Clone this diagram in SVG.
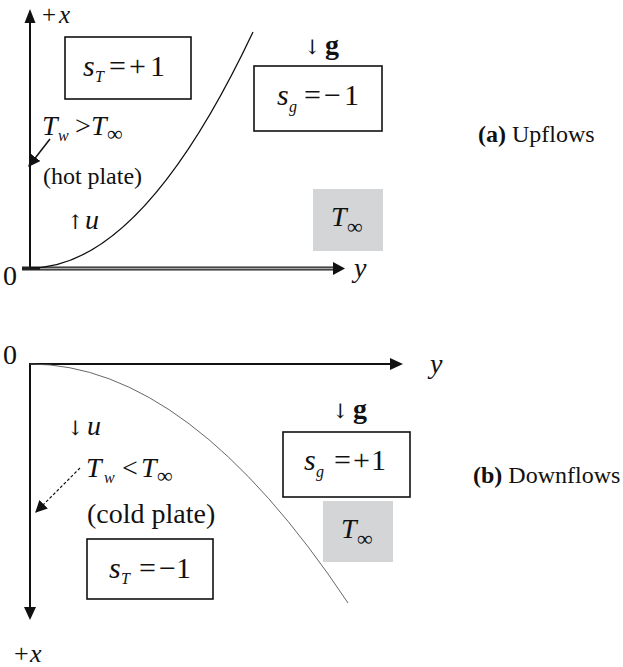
<svg xmlns="http://www.w3.org/2000/svg" width="623" height="667" viewBox="0 0 623 667">
<style>
text{font-family:"Liberation Serif","Times New Roman",serif;fill:#111}
.m{font-style:italic}
.lab{font-size:24px}
.ax28{font-size:28px}
.eq{font-size:30px}
.tt{font-size:28px}
.sub{font-size:16px;font-style:italic}
.inf{font-size:22px;font-style:normal}
.arr{font-family:"DejaVu Serif",serif;font-size:20px;fill:#111}
.box{fill:none;stroke:#111;stroke-width:1.6}
.grey{fill:#d4d5d7}
.ax{stroke:#111;stroke-width:2;fill:none}
.head{fill:#111}
.curve{fill:none;stroke:#111;stroke-width:1.3}
</style>
<defs>
<marker id="ah" viewBox="0 0 10 10" refX="9" refY="5" markerWidth="12" markerHeight="12" markerUnits="userSpaceOnUse" orient="auto">
<path d="M0,0 L10,5 L0,10 z" fill="#111"/>
</marker>
</defs>

<g id="connectors">
<!-- top panel axes -->
<line class="ax" x1="30" y1="269" x2="30" y2="20"/>
<polygon class="head" points="30,9 24.5,23 35.5,23"/>
<line x1="22" y1="268.5" x2="334" y2="268.5" stroke="#222" stroke-width="4"/>
<line x1="40" y1="268.5" x2="334" y2="268.5" stroke="#aaa" stroke-width="1.4"/>
<polygon class="head" points="345,268.5 333,262 333,275"/>
<path class="curve" d="M30,268 Q141.5,268 253,32"/>
<line x1="50" y1="139" x2="29" y2="166" stroke="#111" stroke-width="1.5" marker-end="url(#ah)"/>
<!-- bottom panel axes -->
<line class="ax" x1="29" y1="364" x2="391" y2="364"/>
<polygon class="head" points="403,364 390,358 390,370"/>
<line class="ax" x1="30" y1="364" x2="30" y2="608"/>
<polygon class="head" points="30,620 24,607 36,607"/>
<path d="M30,364 Q189,364 348,603" fill="none" stroke="#555" stroke-width="0.9"/>
<line x1="80" y1="468" x2="36" y2="512" stroke="#111" stroke-width="1.2" stroke-dasharray="3,2" marker-end="url(#ah)"/>
</g>

<g id="top-labels">
<text font-size="25" y="23"><tspan x="42">+</tspan><tspan class="m" x="59">x</tspan></text>
<text class="ax28" x="3" y="285">0</text>
<text class="ax28 m" x="354" y="277">y</text>
<text class="lab" x="478" y="142"><tspan font-weight="bold">(a)</tspan> Upflows</text>
</g>

<g id="sT-top">
<rect class="box" x="65" y="37" width="126" height="62"/>
<text class="eq" y="76"><tspan class="m" x="83">s</tspan><tspan class="sub" x="95" dy="6">T</tspan><tspan x="109" dy="-6">=</tspan><tspan x="129">+</tspan><tspan x="150">1</tspan></text>
</g>

<g id="sg-top">
<text class="arr" x="304" y="54">↓</text>
<text class="tt" x="325" y="54" font-weight="bold">g</text>
<rect class="box" x="254" y="66" width="128" height="65"/>
<text class="eq" y="105"><tspan class="m" x="277">s</tspan><tspan class="sub" x="289" dy="7">g</tspan><tspan x="304" dy="-7">=</tspan><tspan x="324">−</tspan><tspan x="344">1</tspan></text>
</g>

<g id="Tinf-top">
<rect class="grey" x="313" y="189" width="70" height="62"/>
<text class="tt m" y="226"><tspan x="331">T</tspan><tspan class="inf" x="347" dy="8">∞</tspan></text>
</g>

<g id="hot-plate">
<text class="tt m" y="135"><tspan x="42">T</tspan><tspan class="sub" x="58" dy="6">w</tspan><tspan font-style="normal" x="75" dy="-6">&gt;</tspan><tspan x="91">T</tspan><tspan class="inf" x="107" dy="6">∞</tspan></text>
<text class="lab" x="43" y="184" textLength="99">(hot plate)</text>
<text class="tt" y="229"><tspan class="arr" x="67">↑</tspan><tspan class="m" x="85">u</tspan></text>
</g>

<g id="bottom-labels">
<text class="ax28" x="3" y="364">0</text>
<text class="ax28 m" x="430" y="373">y</text>
<text font-size="26" y="662"><tspan x="14">+</tspan><tspan class="m" x="30">x</tspan></text>
<text class="lab" x="473" y="483"><tspan font-weight="bold">(b)</tspan> Downflows</text>
</g>

<g id="cold-plate">
<text class="tt" y="435"><tspan class="arr" x="67">↓</tspan><tspan class="m" x="87">u</tspan></text>
<text class="tt m" y="477"><tspan x="86">T</tspan><tspan class="sub" x="104" dy="6">w</tspan><tspan font-style="normal" x="122" dy="-6">&lt;</tspan><tspan x="141">T</tspan><tspan class="inf" x="157" dy="6">∞</tspan></text>
<text class="tt" x="87" y="523">(cold plate)</text>
</g>

<g id="sT-bottom">
<rect class="box" x="87" y="539" width="126" height="60"/>
<text class="eq" y="578"><tspan class="m" x="109">s</tspan><tspan class="sub" x="121" dy="6">T</tspan><tspan x="139" dy="-6">=</tspan><tspan x="159">−</tspan><tspan x="176">1</tspan></text>
</g>

<g id="sg-bottom">
<text class="arr" x="332" y="418">↓</text>
<text class="tt" x="353" y="418" font-weight="bold">g</text>
<rect class="box" x="283" y="432" width="127" height="65"/>
<text class="eq" y="470"><tspan class="m" x="304">s</tspan><tspan class="sub" x="316" dy="7">g</tspan><tspan x="334" dy="-7">=</tspan><tspan x="353">+</tspan><tspan x="371">1</tspan></text>
</g>

<g id="Tinf-bottom">
<rect class="grey" x="323" y="501" width="70" height="61"/>
<text class="tt m" y="538"><tspan x="341">T</tspan><tspan class="inf" x="357" dy="8">∞</tspan></text>
</g>
</svg>
